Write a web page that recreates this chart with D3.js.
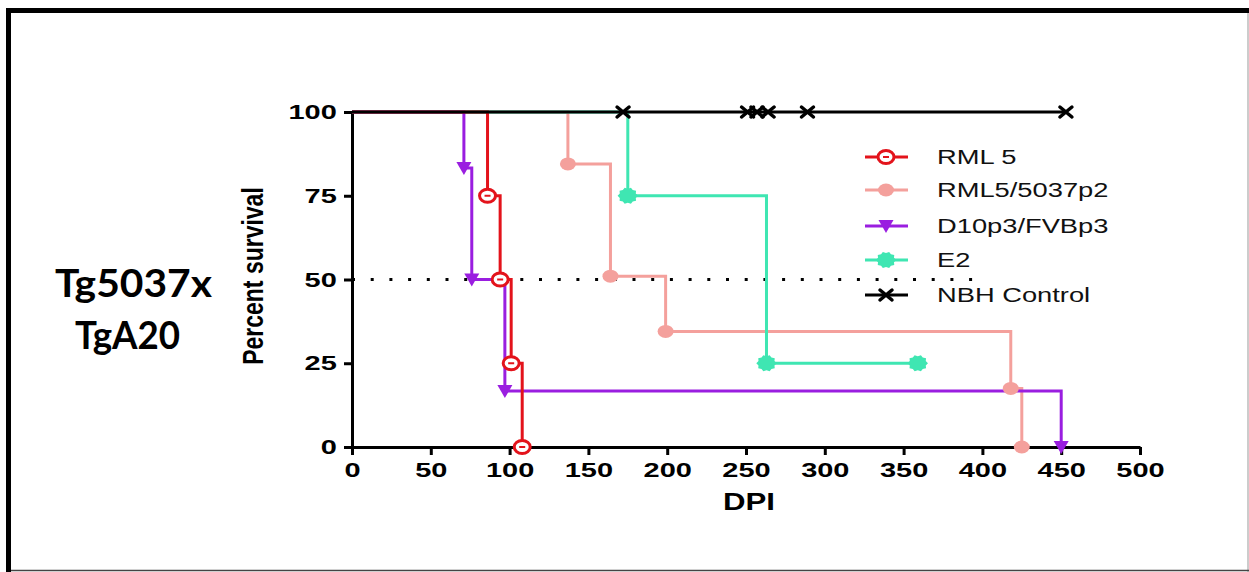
<!DOCTYPE html>
<html>
<head>
<meta charset="utf-8">
<script src="https://cdn.jsdelivr.net/npm/d3@7"></script>
<style>
  html, body { margin: 0; padding: 0; background: #fff; }
  svg { display: block; }
</style>
</head>
<body>
<svg id="chart" width="1249" height="572"></svg>
<script>
// Kaplan–Meier survival steps: days post inoculation and percent surviving
const rml5Days = [0, 86, 94, 101, 108];
const rml5Surv = [100, 75, 50, 25, 0];

const rml5p2Days = [0, 137, 164, 199, 418, 425];
const rml5p2Surv = [100, 84.5, 51, 34.5, 17.5, 0];

const d10Days = [0, 71, 76, 97, 450];
const d10Surv = [100, 83.3, 50, 16.7, 0];

const e2Days = [0, 175, 263, 359];
const e2Surv = [100, 75, 25, 25];

const nbhDays = [0, 172, 251, 257, 264, 289, 453];
const nbhSurv = [100, 100, 100, 100, 100, 100, 100];

const seriesNames = ["RML 5", "RML5/5037p2", "D10p3/FVBp3", "E2", "NBH Control"];
const seriesColors = ["#e3131b", "#f4a09c", "#9a1ee0", "#3fe6b2", "#000000"];
const seriesShapes = ["ring", "dot", "tri", "gear", "cross"];

const xTicks = [0, 50, 100, 150, 200, 250, 300, 350, 400, 450, 500];
const yTicks = [0, 25, 50, 75, 100];

// median reference line (50 %)
const medianLine = { from: 0, to: 394, value: 50 };

const series = [
  { days: rml5Days, surv: rml5Surv },
  { days: rml5p2Days, surv: rml5p2Surv },
  { days: d10Days, surv: d10Surv },
  { days: e2Days, surv: e2Surv },
  { days: nbhDays, surv: nbhSurv }
].map((s, i) => ({
  name: seriesNames[i],
  color: seriesColors[i],
  shape: seriesShapes[i],
  pts: s.days.map((d, j) => ({ day: d, surv: s.surv[j] }))
}));

const svg = d3.select("#chart");

// frame
svg.append("rect").attr("x", 0).attr("y", 0).attr("width", 1249).attr("height", 572).attr("fill", "#fff");
svg.append("line").attr("x1", 1248).attr("x2", 1248).attr("y1", 10).attr("y2", 572)
  .attr("stroke", "#bbb").attr("stroke-width", 1.5);
svg.append("line").attr("x1", 6).attr("x2", 1249).attr("y1", 570.5).attr("y2", 570.5)
  .attr("stroke", "#444").attr("stroke-width", 1.5);
svg.append("line").attr("x1", 6).attr("x2", 1249).attr("y1", 10.5).attr("y2", 10.5)
  .attr("stroke", "#000").attr("stroke-width", 5);
svg.append("line").attr("x1", 8.5).attr("x2", 8.5).attr("y1", 8).attr("y2", 572)
  .attr("stroke", "#000").attr("stroke-width", 5);

// panel title
const title = svg.append("g")
  .attr("font-family", "Lato, 'Open Sans', sans-serif")
  .attr("font-weight", 700)
  .attr("font-size", 39)
  .attr("fill", "#000");
title.append("text").attr("x", 55).attr("y", 297)
  .attr("textLength", 157).attr("lengthAdjust", "spacingAndGlyphs").text("Tg5037x");
title.append("text").attr("x", 75).attr("y", 349)
  .attr("textLength", 105).attr("lengthAdjust", "spacingAndGlyphs").text("TgA20");

const x = d3.scaleLinear().domain([0, 500]).range([352, 1140]);
const y = d3.scaleLinear().domain([0, 100]).range([447, 112]);

const labelFont = "'Liberation Sans', Arial, sans-serif";
const stretch = 1.38;

// axes
const xAxis = svg.append("g").attr("transform", `translate(0,${y(0)})`)
  .call(d3.axisBottom(x).tickValues(xTicks).tickSize(8).tickSizeOuter(0).tickPadding(7));
const yAxis = svg.append("g").attr("transform", `translate(${x(0)},0)`)
  .call(d3.axisLeft(y).tickValues(yTicks).tickSize(8).tickSizeOuter(0).tickPadding(3));

[xAxis, yAxis].forEach(a => {
  a.select(".domain").attr("stroke", "#000").attr("stroke-width", 3);
  a.selectAll(".tick line").attr("stroke", "#000").attr("stroke-width", 3);
  a.selectAll(".tick text")
    .attr("font-family", labelFont)
    .attr("font-weight", 700)
    .attr("font-size", 21)
    .attr("fill", "#000")
    .attr("transform", `scale(${stretch},1)`);
});

// axis titles
svg.append("text")
  .attr("transform", `translate(749,510) scale(1.3,1)`)
  .attr("text-anchor", "middle")
  .attr("font-family", labelFont).attr("font-weight", 700).attr("font-size", 24)
  .text("DPI");
svg.append("text")
  .attr("transform", `translate(263,276) scale(1.3,1) rotate(-90)`)
  .attr("text-anchor", "middle")
  .attr("font-family", labelFont).attr("font-weight", 700).attr("font-size", 23)
  .text("Percent survival");

// median dotted line
svg.append("line")
  .attr("x1", x(medianLine.from)).attr("x2", x(medianLine.to))
  .attr("y1", y(medianLine.value)).attr("y2", y(medianLine.value))
  .attr("stroke", "#000").attr("stroke-width", 3)
  .attr("stroke-dasharray", "3 15.7");

// marker shapes
function gearPath(ro, ri, n) {
  const p = [];
  for (let k = 0; k < n * 2; k++) {
    const r = k % 2 ? ri : ro;
    const a = Math.PI * k / n;
    p.push([r * Math.cos(a), r * Math.sin(a)]);
  }
  return "M" + p.map(q => q.join(",")).join("L") + "Z";
}
function drawMarker(g, shape, color) {
  if (shape === "ring") {
    g.append("ellipse").attr("rx", 8).attr("ry", 6.5).attr("fill", "#fff")
      .attr("stroke", color).attr("stroke-width", 3);
    g.append("path").attr("d", "M-3,0 L3,0").attr("stroke", color).attr("stroke-width", 2);
  } else if (shape === "dot") {
    g.append("ellipse").attr("rx", 8).attr("ry", 6.5).attr("fill", color);
  } else if (shape === "tri") {
    g.append("path").attr("d", "M-7.5,-6 L7.5,-6 L0,7 Z").attr("fill", color);
  } else if (shape === "gear") {
    g.append("path").attr("d", gearPath(8.5, 7, 10)).attr("transform", "scale(1.2,1)").attr("fill", color);
  } else if (shape === "cross") {
    g.append("path").attr("d", "M-6,-5 L6,5 M-6,5 L6,-5").attr("fill", "none")
      .attr("stroke", color).attr("stroke-width", 3.5).attr("stroke-linecap", "round");
  }
}

// survival curves; the control is drawn last so its 100 % line sits on top
const stepLine = d3.line().x(d => x(d.day)).y(d => y(d.surv)).curve(d3.curveStepAfter);

const order = [1, 3, 2, 0, 4];
order.forEach(i => {
  const s = series[i];
  svg.append("path").datum(s.pts)
    .attr("d", stepLine)
    .attr("fill", "none")
    .attr("stroke", s.color)
    .attr("stroke-width", 3);
});
order.forEach(i => {
  const s = series[i];
  s.pts.slice(1).forEach(p => {
    const g = svg.append("g").attr("transform", `translate(${x(p.day)},${y(p.surv)})`);
    drawMarker(g, s.shape, s.color);
  });
});

// legend
const legendRows = [157, 190, 226, 260, 295];
series.forEach((s, i) => {
  const g = svg.append("g").attr("transform", `translate(0,${legendRows[i]})`);
  g.append("line").attr("x1", 865).attr("x2", 908).attr("stroke", s.color).attr("stroke-width", 3);
  const m = g.append("g").attr("transform", "translate(886,0)");
  drawMarker(m, s.shape, s.color);
  g.append("text")
    .attr("transform", `translate(937,0) scale(1.3,1)`)
    .attr("dy", "0.35em")
    .attr("font-family", labelFont).attr("font-size", 21)
    .attr("fill", "#111")
    .text(s.name);
});
</script>
</body>
</html>
